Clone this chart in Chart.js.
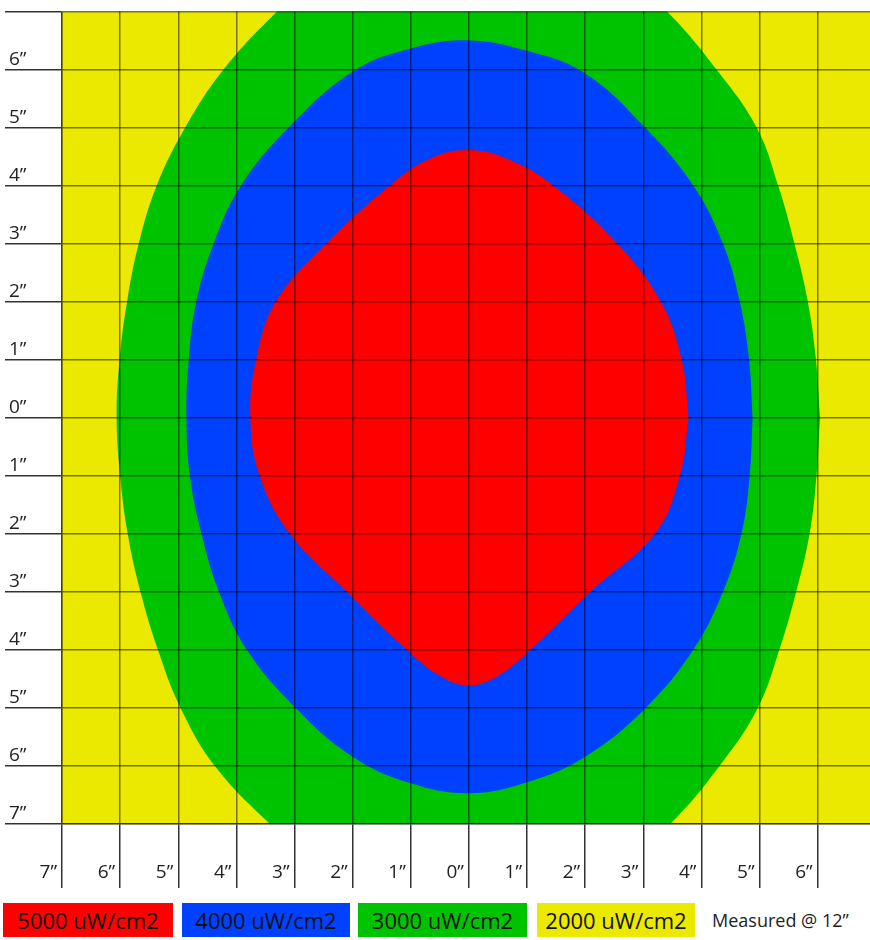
<!DOCTYPE html>
<html>
<head>
<meta charset="utf-8">
<script src="https://cdn.jsdelivr.net/npm/chart.js@4.4.0/dist/chart.umd.min.js"></script>
<style>
  body { margin: 0; background: #fff; font-family: 'Open Sans', sans-serif; }
  #wrap { width: 870px; height: 890px; }
  #legend { display: flex; align-items: center; margin-top: 13px; padding-left: 3px; height: 34px; }
  .item { height: 34px; line-height: 34px; text-align: center; font-size: 22px; color: #111; }
  .note { font-size: 18px; color: #222; margin-left: 17px; }
</style>
</head>
<body>
<div id="wrap"><canvas id="chart" width="870" height="890"></canvas></div>
<div id="legend"></div>
<script>
// tick positions (inches) and the labels printed next to them
const xTickValues = [-7, -6, -5, -4, -3, -2, -1, 0, 1, 2, 3, 4, 5, 6];
const xTickLabels = ['7”', '6”', '5”', '4”', '3”', '2”', '1”', '0”', '1”', '2”', '3”', '4”', '5”', '6”'];
const yTickValues = [6, 5, 4, 3, 2, 1, 0, -1, -2, -3, -4, -5, -6, -7];
const yTickLabels = ['6”', '5”', '4”', '3”', '2”', '1”', '0”', '1”', '2”', '3”', '4”', '5”', '6”', '7”'];

// irradiance levels
const levels = ['5000 uW/cm2', '4000 uW/cm2', '3000 uW/cm2', '2000 uW/cm2'];
const levelColors = ['#FF0000', '#0040FF', '#00C300', '#EBE900'];
const note = 'Measured @ 12”';

// contour outlines, [x, y] in inches
const contour5000 = [
  [3.78, 0], [3.66, 1], [3.3, 2], [2.55, 3], [1.45, 4], [0.75, 4.42], [0, 4.61], [-0.7, 4.45],
  [-1.36, 4], [-2.45, 3], [-3.32, 2], [-3.66, 1], [-3.76, 0], [-3.6, -1], [-3.08, -2], [-2.1, -3],
  [-1.07, -4], [-0.5, -4.45], [0, -4.61], [0.5, -4.45], [1.06, -4], [2.09, -3], [3.2, -2],
  [3.63, -1], [3.78, 0]
];
const contour4000 = [
  [4.88, 0], [4.82, 1], [4.66, 2], [4.37, 3], [3.86, 4], [3.03, 5], [2, 5.93], [1, 6.32], [0, 6.5],
  [-1, 6.36], [-2, 5.96], [-3.1, 5], [-3.92, 4], [-4.39, 3], [-4.69, 2], [-4.82, 1], [-4.86, 0],
  [-4.8, -1], [-4.6, -2], [-4.3, -3], [-3.82, -4], [-2.98, -5], [-2, -5.84], [-1, -6.3], [0, -6.47],
  [1, -6.28], [2, -5.84], [3.04, -5], [3.86, -4], [4.37, -3], [4.69, -2], [4.83, -1], [4.88, 0]
];
const contour3000 = [
  [6.04, 0], [5.97, 1], [5.83, 2], [5.6, 3], [5.32, 4], [4.95, 5], [4.26, 6], [3.41, 7], [2.7, 7.6],
  [0, 8.2], [-2.6, 7.6], [-3.3, 7], [-4.22, 6], [-4.88, 5], [-5.37, 4], [-5.68, 3], [-5.88, 2],
  [-6.01, 1], [-6.06, 0], [-6.0, -1], [-5.87, -2], [-5.65, -3], [-5.35, -4], [-4.96, -5], [-4.37, -6],
  [-3.42, -7], [-2.7, -7.6], [0, -8.2], [2.7, -7.6], [3.46, -7], [4.31, -6], [4.97, -5], [5.34, -4],
  [5.63, -3], [5.86, -2], [5.98, -1], [6.04, 0]
];

const gridColor = 'rgba(0,0,0,0.5)';
const tickFont = { family: 'Open Sans', size: 19 };

const toPoints = arr => arr.map(p => ({ x: p[0], y: p[1] }));
const shape = (arr, color) => ({
  data: toPoints(arr),
  showLine: true,
  fill: 'shape',
  backgroundColor: color,
  borderColor: color,
  borderWidth: 0,
  pointRadius: 0,
  tension: 0.4
});

// 2000 level is everything else in the plot
const plotBackground = {
  id: 'plotBackground',
  beforeDraw(chart) {
    const { ctx, chartArea } = chart;
    ctx.save();
    ctx.fillStyle = levelColors[3];
    ctx.fillRect(chartArea.left, chartArea.top, chartArea.right - chartArea.left, chartArea.bottom - chartArea.top);
    ctx.restore();
  }
};

new Chart(document.getElementById('chart'), {
  type: 'scatter',
  data: {
    datasets: [
      shape(contour5000, levelColors[0]),
      shape(contour4000, levelColors[1]),
      shape(contour3000, levelColors[2])
    ]
  },
  options: {
    responsive: false,
    animation: false,
    events: [],
    elements: { line: { capBezierPoints: false } },
    layout: { autoPadding: false, padding: { left: 9, top: 9, right: 0, bottom: 0 } },
    plugins: { legend: { display: false }, tooltip: { enabled: false } },
    scales: {
      x: {
        type: 'linear',
        position: 'bottom',
        min: -7,
        max: 6.9,
        afterFit: s => { s.height = 66; },
        grid: { z: 1, color: gridColor, lineWidth: 1.5, tickLength: 64, tickColor: '#333', tickWidth: 1.5 },
        border: { z: 1, color: gridColor, width: 1.5 },
        ticks: {
          z: 1,
          stepSize: 1,
          includeBounds: false,
          autoSkip: false,
          maxRotation: 0,
          align: 'end',
          labelOffset: -5,
          padding: -27,
          color: '#222',
          font: tickFont,
          callback: v => { const i = xTickValues.indexOf(v); return i < 0 ? '' : xTickLabels[i]; }
        }
      },
      y: {
        type: 'linear',
        position: 'left',
        min: -7,
        max: 7,
        afterFit: s => { s.width = 53; },
        grid: { z: 1, color: gridColor, lineWidth: 1.5, tickLength: 57, tickColor: '#333', tickWidth: 1.5 },
        border: { z: 1, color: gridColor, width: 1.5 },
        ticks: {
          z: 1,
          stepSize: 1,
          autoSkip: false,
          crossAlign: 'far',
          labelOffset: -10,
          padding: 0,
          color: '#222',
          font: tickFont,
          callback: v => { const i = yTickValues.indexOf(v); return i < 0 ? '' : yTickLabels[i]; }
        }
      }
    }
  },
  plugins: [plotBackground]
});

// legend boxes under the chart
const boxWidths = [170, 168, 169, 158];
const boxGaps = [0, 9, 8, 10];
const legend = document.getElementById('legend');
levels.forEach((label, i) => {
  const item = document.createElement('div');
  item.className = 'item';
  item.style.width = boxWidths[i] + 'px';
  item.style.marginLeft = boxGaps[i] + 'px';
  item.style.background = levelColors[i];
  item.textContent = label;
  legend.appendChild(item);
});
const noteEl = document.createElement('div');
noteEl.className = 'note';
noteEl.textContent = note;
legend.appendChild(noteEl);
</script>
</body>
</html>
